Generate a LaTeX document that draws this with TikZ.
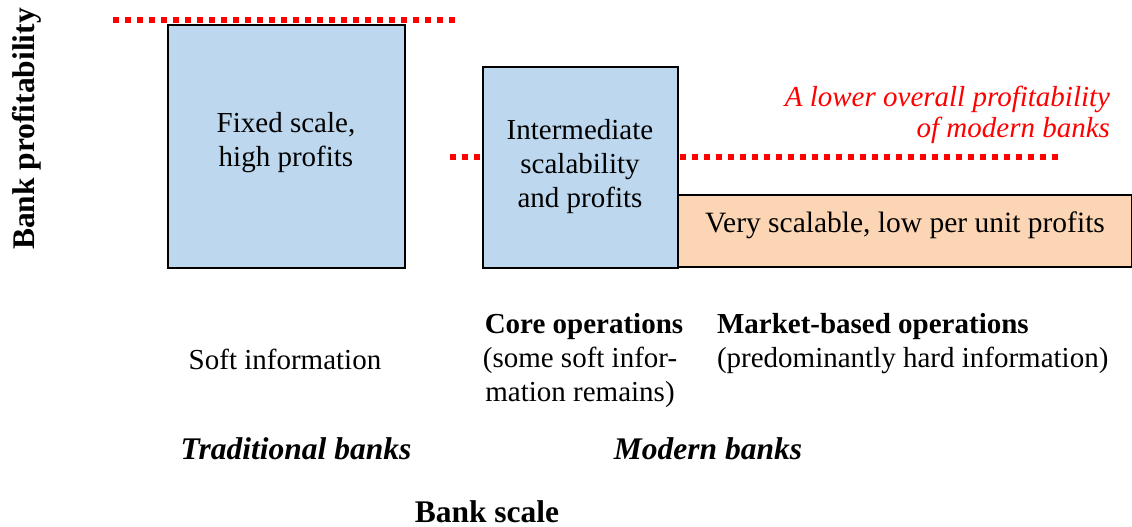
\documentclass[tikz,border=0pt]{standalone}
\usepackage{fontspec}
\setmainfont{Liberation Serif}
\definecolor{boxblue}{RGB}{189,215,238}
\definecolor{boxpeach}{RGB}{252,213,180}
\begin{document}
\begin{tikzpicture}[x=1pt,y=-1pt,
  every node/.style={inner sep=0pt, outer sep=0pt, font=\fontsize{29}{34}\selectfont},
  box/.style={draw=black, line width=2pt, anchor=north west},
  reddots/.style={red, line width=5.5pt, dash pattern=on 5.5pt off 6.5pt},
  lbl/.style={align=center},
  bold/.style={font=\fontsize{29}{34}\selectfont\bfseries},
  bigbold/.style={font=\fontsize{31.5}{36}\selectfont\bfseries},
  bolditalic/.style={font=\fontsize{31.5}{36}\selectfont\bfseries\itshape}]
\useasboundingbox (0,0) rectangle (1132,527);
% dotted lines
\coordinate (d1a) at (113,20); \coordinate (d1b) at (456,20);
\draw[reddots] (d1a) -- (d1b);
\coordinate (d2a) at (450,157); \coordinate (d2b) at (483,157);
\draw[reddots] (d2a) -- (d2b);
\coordinate (d3a) at (680,157); \coordinate (d3b) at (1058,157);
\draw[reddots] (d3a) -- (d3b);
% boxes
\node[box, fill=boxblue, minimum width=237pt, minimum height=243pt] (b1) at (168,25) {};
\node[box, fill=boxpeach, minimum width=454pt, minimum height=72pt] (b3) at (678,195) {};
\node[box, fill=boxblue, minimum width=195pt, minimum height=201pt] (b2) at (483,67) {};
% box texts
\node[lbl] (t1) at (286,142.5) {Fixed scale,\\high profits};
\node[lbl] (t2) at (580,166.5) {Intermediate\\scalability\\and profits};
\node[font=\fontsize{29.5}{34}\selectfont] (t3) at (905,225) {Very scalable, low per unit profits};
% red note
\node[align=right, anchor=east, text=red, font=\fontsize{29}{31}\selectfont\itshape] (note) at (1110,115) {A lower overall profitability\\of modern banks};
% axis labels
\node[bigbold, rotate=90] (ylab) at (27,129) {Bank profitability};
\node[bigbold, anchor=base, text depth=0pt] (xlab) at (487,522) {Bank scale};
% bottom texts
\node (soft) at (285,359) {Soft information};
\node[bold] (core) at (584,327) {Core operations};
\node[lbl] (coredesc) at (580,377) {(some soft infor-\\mation remains)};
\node[bold, anchor=west] (market) at (717,327) {Market-based operations};
\node[anchor=west] (marketdesc) at (717,360) {(predominantly hard information)};
\node[bolditalic] (trad) at (296,449) {Traditional banks};
\node[bolditalic] (modern) at (708,449) {Modern banks};
\end{tikzpicture}
\end{document}
